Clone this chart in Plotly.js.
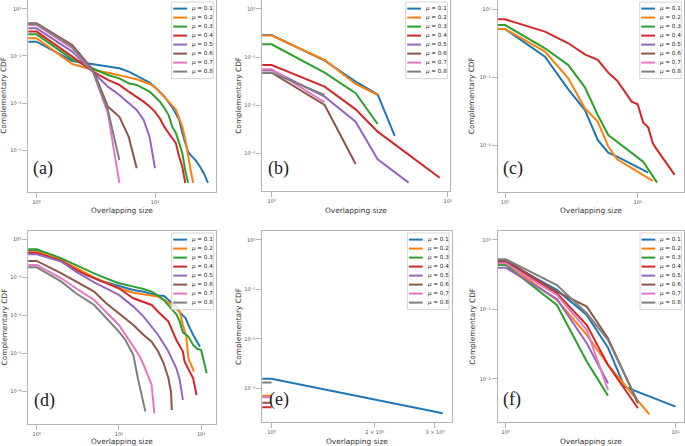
<!DOCTYPE html>
<html><head><meta charset="utf-8">
<script src="https://cdn.plot.ly/plotly-3.0.1.min.js"></script>
<style>html,body{margin:0;padding:0;background:#fff}#chart{width:685px;height:446px}</style>
</head><body><div id="chart"></div>
<script>
// ---------- data ----------
const muLabels = ['0.1','0.2','0.3','0.4','0.5','0.6','0.7','0.8'];
const seriesColors = ['#1f77b4','#ff7f0e','#2ca02c','#d62728','#9467bd','#8c564b','#e377c2','#7f7f7f'];
const panelLabels = ['(a)','(b)','(c)','(d)','(e)','(f)'];
const xTitle = 'Overlapping size';
const yTitle = 'Complementary CDF';
const decadeVals = [1,10,100];
const decadeText = ['10⁰','10¹','10²'];
const xValsE = [1,2,3];
const xTextE = ['10⁰','2 × 10⁰','3 × 10⁰'];
const yDecadeVals = [1,0.1,0.01,0.001,0.0001];
const yDecadeText = ['10⁰','10⁻¹','10⁻²','10⁻³','10⁻⁴'];

// the first x (0.5) stands for the size-0 bin that the log axis clips at its left edge
// panel (a)
const aX = [
 [0.5,1,2,3,4,5,6,7,8,9,10,12,14,15,16,17,18,19,20,22,24,26,28],
 [0.5,1,2,3,4,5,6,7,8,9,10,11,12,13,14,15,16,17,18,19,20,21],
 [0.5,1,2,3,4,5,6,7,8,9,10,11,12,13,14,15,16,17,18,19],
 [0.5,1,2,3,4,5,6,7,8,9,10,11,12,13,14,15,16,17,18],
 [0.5,1,2,3,4,5,6,7,8,9,10],
 [0.5,1,2,3,4,5,6,7],
 [0.5,1,2,3,4,5],
 [0.5,1,2,3,4,5]
];
const aY = [
 [0.202,0.202,0.0783,0.0665,0.0613,0.0547,0.0464,0.0375,0.0319,0.0271,0.0216,0.0136,0.0081,0.0060,0.0044,0.0023,0.0014,0.00092,0.00078,0.00061,0.00044,0.00031,0.0002],
 [0.238,0.238,0.0676,0.0504,0.0442,0.0394,0.0351,0.0319,0.0284,0.0254,0.0216,0.0174,0.0136,0.0107,0.0086,0.0073,0.0047,0.0031,0.0017,0.00072,0.00037,0.0002],
 [0.289,0.289,0.0849,0.0547,0.0394,0.0335,0.0262,0.0242,0.0205,0.0174,0.0136,0.0107,0.0078,0.0056,0.0031,0.0023,0.0014,0.00085,0.00037,0.0002],
 [0.330,0.330,0.0968,0.0464,0.0309,0.0242,0.0174,0.0136,0.0107,0.0084,0.0065,0.0047,0.0031,0.0023,0.0018,0.0014,0.00072,0.00044,0.0002],
 [0.388,0.388,0.124,0.0464,0.0223,0.0148,0.0098,0.0071,0.0044,0.0019,0.00041],
 [0.495,0.495,0.171,0.050,0.0084,0.0051,0.0019,0.00041],
 [0.457,0.457,0.146,0.046,0.006,0.0002],
 [0.48,0.48,0.158,0.046,0.0071,0.00061]
];
// panel (b)
const bX = [
 [0.5,1,2,3,4,5],
 [0.5,1,2,3,4],
 [0.5,1,2,3,4],
 [0.5,1,2,3,4,9],
 [0.5,1,2,3,4,6],
 [0.5,1,2,3],
 [0.5,1,2],
 [0.5,1,2]
];
const bY = [
 [0.288,0.288,0.0843,0.0309,0.0168,0.00229],
 [0.28,0.28,0.0871,0.0276,0.0163],
 [0.184,0.184,0.0475,0.0177,0.00406],
 [0.0685,0.0685,0.0243,0.0082,0.00282,0.000311],
 [0.0539,0.0539,0.0150,0.00455,0.00075,0.000245],
 [0.0475,0.0475,0.0101,0.0006],
 [0.056,0.056,0.0115],
 [0.0475,0.0475,0.0163]
];
// panel (c)
const cX = [
 [0.5,1,2,3,4,5,6,7,12],
 [0.5,1,2,3,4,5,6,7,13],
 [0.5,1,2,3,4,5,6,11,14],
 [0.5,1,2,3,4,5,6,7,8,9,10,11,12,13,14,19],
 [],[],[],[]
];
const cY = [
 [0.51,0.51,0.201,0.0667,0.0332,0.0121,0.0079,0.0069,0.00403],
 [0.51,0.51,0.238,0.0967,0.0352,0.0225,0.00967,0.00631,0.00304],
 [0.583,0.583,0.266,0.151,0.0714,0.0281,0.0143,0.00583,0.00287],
 [0.706,0.706,0.466,0.315,0.217,0.180,0.117,0.0893,0.0617,0.0441,0.0403,0.0217,0.0185,0.0108,0.00865,0.00372],
 [],[],[],[]
];
// panel (d)
const dX = [
 [0.5,1,2,3,4,5,6,7,8,10,15,20,25,30,35,40,50,55,65,70,80,97],
 [0.5,1,2,3,4,5,7,10,15,20,30,40,50,55,60,66,70,82],
 [0.5,1,2,3,4,5,7,10,15,20,25,30,35,40,50,55,60,70,80,90,100,117],
 [0.5,1,2,3,4,5,7,10,15,20,25,30,40,50,60,63,72,80,88],
 [0.5,1,2,3,4,5,7,10,15,20,30,40,50,55,60],
 [0.5,1,2,3,5,7,10,15,20,25,30,35,40,43,44],
 [0.5,1,2,3,5,7,10,15,18,20,25,27],
 [0.5,1,2,3,5,7,10,12,15,17,20,21]
];
const dY = [
 [0.50,0.50,0.259,0.166,0.121,0.0986,0.0805,0.0743,0.0673,0.0596,0.0468,0.0423,0.0367,0.0332,0.0332,0.0256,0.0171,0.0121,0.00845,0.00565,0.00308,0.00152],
 [0.474,0.474,0.287,0.180,0.128,0.0986,0.0743,0.0518,0.0398,0.0367,0.0313,0.0222,0.0155,0.0126,0.00565,0.00279,0.00075,0.000336],
 [0.547,0.547,0.317,0.212,0.157,0.128,0.0947,0.070,0.0573,0.0497,0.0423,0.0332,0.0256,0.0189,0.0107,0.00691,0.00362,0.00279,0.00169,0.00132,0.00125,0.000304],
 [0.44,0.44,0.27,0.157,0.116,0.0947,0.070,0.0518,0.0283,0.0231,0.0189,0.0126,0.00691,0.00228,0.00113,0.000615,0.000336,0.000225,0.000082],
 [0.404,0.404,0.259,0.142,0.0986,0.0743,0.0518,0.0346,0.0171,0.00933,0.00308,0.00113,0.000411,0.000203,0.0000607],
 [0.270,0.270,0.128,0.0774,0.0423,0.0209,0.0114,0.00565,0.00308,0.00206,0.00113,0.000556,0.000225,0.000100,0.0000332],
 [0.212,0.212,0.0947,0.0518,0.0256,0.0121,0.00565,0.00152,0.00083,0.000503,0.00015,0.0000271],
 [0.184,0.184,0.0774,0.0383,0.0189,0.00845,0.00378,0.00228,0.00092,0.000225,0.0000548,0.00003]
];
// panel (e)
const eX = [
 [0.5,1,3.16],
 [0.5,1],
 [],
 [0.5,1],
 [],
 [0.5,1],
 [0.5,1],
 [0.5,1]
];
const eY = [
 [0.00156,0.00156,0.00031],
 [0.00070,0.00070],
 [],
 [0.00041,0.00041],
 [],
 [0.00051,0.00051],
 [0.00066,0.00066],
 [0.00131,0.00131]
];
// panel (f)
const fX = [
 [0.5,1,2,3,4,5,10],
 [0.5,1,2,3,4,7],
 [0.5,1,2,3,4],
 [0.5,1,2,3,4,6],
 [0.5,1,2,3,4],
 [0.5,1,2,3,4,6],
 [0.5,1,2,3,4],
 [0.5,1,2,3,4,6]
];
const fY = [
 [0.488,0.488,0.191,0.0833,0.0282,0.00776,0.0040],
 [0.461,0.461,0.137,0.043,0.0159,0.0031],
 [0.437,0.437,0.116,0.0178,0.00576],
 [0.477,0.477,0.171,0.0598,0.0159,0.00379],
 [0.400,0.400,0.142,0.0326,0.00866],
 [0.515,0.515,0.181,0.110,0.0385,0.00447],
 [0.461,0.461,0.162,0.0507,0.00695],
 [0.527,0.527,0.225,0.0881,0.0364,0.00472]
];

// ---------- layout ----------
const W = 685, H = 446;
const px = v => v / W;
const py = v => 1 - v / H;
const panels = [
 {xs:aX, ys:aY, box:[28.3,216,0,191.7], xr:[-0.070,1.515], yr:[-3.887,0.191], tv:decadeVals, tt:decadeText, ytx:4, lab:[43.5,168]},
 {xs:bX, ys:bY, box:[262.3,450,0,191], xr:[-0.053,1.013], yr:[-3.784,0.187], tv:decadeVals, tt:decadeText, ytx:238.3, lab:[278.5,168]},
 {xs:cX, ys:cY, box:[497.7,684,0,191.7], xr:[-0.055,1.349], yr:[-2.675,0.132], tv:decadeVals, tt:decadeText, ytx:472.3, lab:[512.5,168]},
 {xs:dX, ys:dY, box:[28.3,216,231,424], xr:[-0.102,2.181], yr:[-4.848,0.218], tv:decadeVals, tt:decadeText, ytx:4, lab:[44,400]},
 {xs:eX, ys:eY, box:[262.3,451.7,231,422.3], xr:[-0.027,0.526], yr:[-3.69,0.182], tv:xValsE, tt:xTextE, ytx:238.3, lab:[279,399]},
 {xs:fX, ys:fY, box:[497.7,684.3,231,422], xr:[-0.047,1.051], yr:[-2.619,0.129], tv:decadeVals, tt:decadeText, ytx:472.3, lab:[512,399]}
];

const traces = [];
const layout = {
 width: W, height: H, margin: {l:0, r:0, t:0, b:0},
 paper_bgcolor: '#fff', plot_bgcolor: '#fff',
 showlegend: false, annotations: [], shapes: []
};
const font = 'DejaVu Sans';
const tickFont = {family: font, size: 5, color: '#555'};

panels.forEach((p, k) => {
 const sfx = k === 0 ? '' : String(k + 1);
 const [x0, x1, y0, y1] = p.box;
 layout['xaxis' + sfx] = {
  type: 'log', domain: [px(x0), px(x1)], range: p.xr, anchor: 'y' + sfx,
  tickmode: 'array', tickvals: p.tv, ticktext: p.tt, tickfont: tickFont,
  showgrid: false, zeroline: false, showline: true, mirror: true,
  linecolor: '#b5b5b5', linewidth: 1, ticks: 'outside', ticklen: 5, tickwidth: 1, tickcolor: '#b5b5b5'
 };
 layout['yaxis' + sfx] = {
  type: 'log', domain: [py(y1), py(y0)], range: p.yr, anchor: 'x' + sfx,
  tickmode: 'array', tickvals: yDecadeVals, ticktext: yDecadeText, tickfont: tickFont,
  showgrid: false, zeroline: false, showline: true, mirror: true,
  linecolor: '#b5b5b5', linewidth: 1, ticks: 'outside', ticklen: 5, tickwidth: 1, tickcolor: '#b5b5b5'
 };
 p.xs.forEach((xv, i) => {
  traces.push({
   type: 'scatter', mode: 'lines', x: xv, y: p.ys[i],
   xaxis: 'x' + sfx, yaxis: 'y' + sfx,
   line: {color: seriesColors[i], width: 2}, name: 'μ = ' + muLabels[i], hoverinfo: 'skip'
  });
 });
 // axis titles
 const top = y0 === 0 ? 211 : 441.7;
 layout.annotations.push({text: xTitle, xref: 'paper', yref: 'paper', x: px((x0 + x1) / 2), y: py(top),
  xanchor: 'center', yanchor: 'middle', showarrow: false, font: {family: font, size: 7.4, color: '#333'}});
 layout.annotations.push({text: yTitle, xref: 'paper', yref: 'paper', x: px(p.ytx), y: py((y0 + y1) / 2),
  textangle: -90, xanchor: 'center', yanchor: 'middle', showarrow: false, font: {family: font, size: 7.4, color: '#333'}});
 // panel label
 layout.annotations.push({text: panelLabels[k], xref: 'paper', yref: 'paper', x: px(p.lab[0]), y: py(p.lab[1]),
  xanchor: 'center', yanchor: 'middle', showarrow: false, font: {family: 'Liberation Serif', size: 18, color: '#222'}});
 // legend box (drawn inside the axes, top right)
 const lr = x1 - 2.7, lt = y0 + 2, lw = 41.6, lh = 76.6, ll = lr - lw;
 layout.shapes.push({type: 'rect', xref: 'paper', yref: 'paper', x0: px(ll), x1: px(lr), y0: py(lt + lh), y1: py(lt),
  fillcolor: 'rgba(255,255,255,0.85)', line: {color: '#cccccc', width: 0.8}, layer: 'above'});
 muLabels.forEach((m, i) => {
  const yy = lt + 6.6 + 9 * i;
  layout.shapes.push({type: 'line', xref: 'paper', yref: 'paper', x0: px(ll + 1.5), x1: px(ll + 15.3), y0: py(yy), y1: py(yy),
   line: {color: seriesColors[i], width: 2}, layer: 'above'});
  layout.annotations.push({text: '<i>μ</i> = ' + m, xref: 'paper', yref: 'paper', x: px(ll + 17.3), y: py(yy),
   xanchor: 'left', yanchor: 'middle', showarrow: false, font: {family: font, size: 5.6, color: '#222'}});
 });
});

Plotly.newPlot('chart', traces, layout, {staticPlot: true, displayModeBar: false});
</script>
</body></html>
